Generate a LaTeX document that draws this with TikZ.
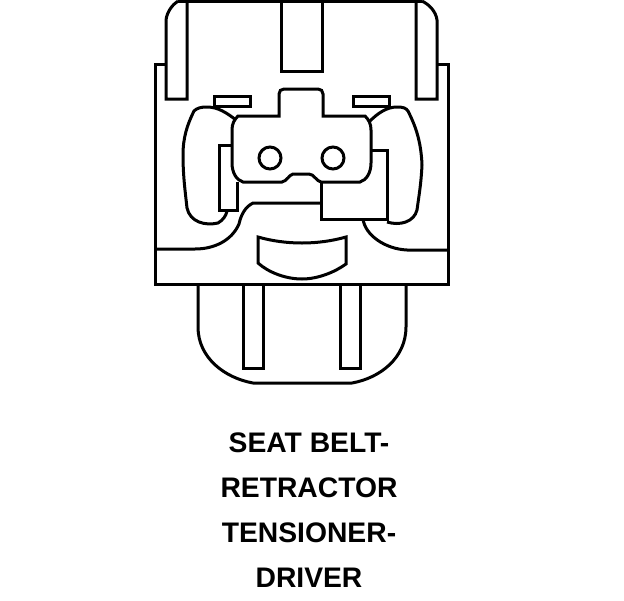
\documentclass[tikz,border=0pt]{standalone}
\usepackage{fontspec}
\setmainfont{Liberation Sans}
\begin{document}
\begin{tikzpicture}
			[
				x=0.75pt,
				y=-0.75pt,
				align=center,
				outline/.style={draw=black, line width=2.25pt, line join=miter},
				caption/.style={draw=none, fill=none, inner sep=0pt, font=\bfseries\fontsize{21.2}{21.2}\selectfont}
			]
			\useasboundingbox (0,0) rectangle (624,600);

			% housing
			\draw[outline] (166,64) -- (155,64) -- (155,284) -- (448,284) -- (448,64) -- (437,64);
			\draw[outline] (178,1) -- (422,1);
			\draw[outline] (281,1) -- (281,71) -- (322,71) -- (322,1);

			% latches
			\draw[outline] (187,1) -- (187,99) -- (166,99) -- (166,20) .. controls (167,12) and (172,5) .. (178,1);
			\draw[outline] (416,1) -- (416,99) -- (437,99) -- (437,20) .. controls (436,12) and (430,5) .. (422,1);

			% slots
			\draw[outline] (214,96) rectangle (250,106);
			\draw[outline] (353,96) rectangle (389,106);

			% center piece
			\draw[outline] (279,116) -- (279,94) .. controls (279,91) and (281,89) .. (284,89)
				-- (318,89) .. controls (321,89) and (323,91) .. (323,94) -- (323,116)
				-- (365,116) .. controls (369,120) and (371,124) .. (371,130) -- (371,163)
				.. controls (371,172) and (367,180) .. (360,182) -- (321,182)
				.. controls (316,181) and (314,174) .. (309,174) -- (293,174)
				.. controls (289,175) and (287,181) .. (282,182) -- (243,182)
				.. controls (236,180) and (232,172) .. (232,163) -- (232,130)
				.. controls (232,124) and (234,120) .. (238,116) -- cycle;
			\draw[outline] (270,158) circle (11);
			\draw[outline] (333,158) circle (11);

			% ears
			\draw[outline] (236,120) .. controls (227,113) and (218,107) .. (207,107)
				.. controls (201,107) and (197,108) .. (194,111)
				.. controls (187,125) and (183,138) .. (183,155)
				.. controls (183,175) and (185,190) .. (187,208)
				.. controls (190,222) and (205,226) .. (218,223)
				.. controls (223,220) and (226,216) .. (227,211);
			\draw[outline] (370,121) .. controls (378,113) and (387,107) .. (397,107)
				.. controls (403,107) and (406,108) .. (408,111)
				.. controls (415,125) and (421,140) .. (422,165)
				.. controls (421,185) and (419,195) .. (417,210)
				.. controls (414,222) and (400,226) .. (387,222);

			% contacts
			\draw[outline] (232,145) -- (219,145) -- (219,210) -- (237,210) -- (237,182);
			\draw[outline] (372,150) -- (387,150) -- (387,219) -- (321,219) -- (321,182);
			\draw[outline] (321,203) -- (253,203) .. controls (245,207) and (241,215) .. (239,224)
				.. controls (232,240) and (215,249) .. (195,249) -- (157,249);
			\draw[outline] (363,219) .. controls (365,235) and (385,249) .. (407,250) -- (447,250);

			% center tab
			\draw[outline] (258,237) .. controls (272,241) and (287,243) .. (302,243)
				.. controls (317,243) and (332,241) .. (346,237) -- (346,264)
				.. controls (335,272) and (318,279) .. (302,279)
				.. controls (285,279) and (268,272) .. (258,263) -- cycle;

			% lower shell
			\draw[outline] (198,284) -- (198,327) .. controls (198,358) and (225,378) .. (253,383)
				-- (352,383) .. controls (380,378) and (406,358) .. (406,327) -- (406,284);
			\draw[outline] (243,284) -- (243,368) -- (263,368) -- (263,284);
			\draw[outline] (340,284) -- (340,368) -- (360,368) -- (360,284);

			% caption
			\node[caption] (line1) at (309,443) {SEAT BELT-};
			\node[caption] (line2) at (309,488) {RETRACTOR};
			\node[caption] (line3) at (309,533) {TENSIONER-};
			\node[caption] (line4) at (309,578) {DRIVER};

		\end{tikzpicture}
\end{document}
